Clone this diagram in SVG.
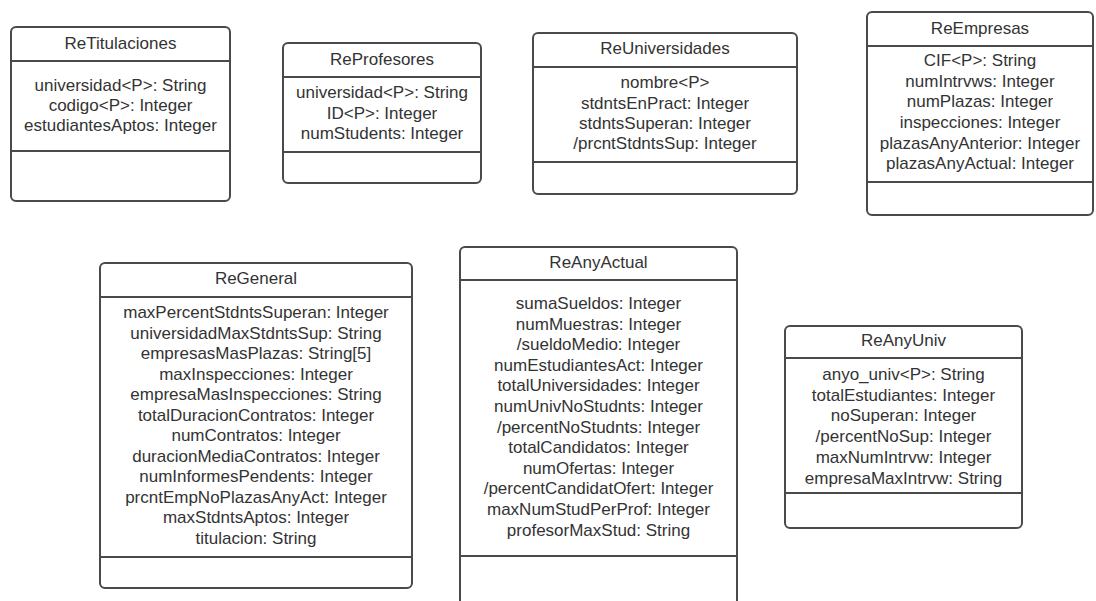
<svg xmlns="http://www.w3.org/2000/svg" width="1096" height="601" viewBox="0 0 1096 601">
<style>
.box{fill:#fff;stroke:#4a4a4a;stroke-width:2}
.ln{stroke:#4a4a4a;stroke-width:2}
text{font-family:"Liberation Sans",Arial,sans-serif;font-size:17px;fill:#333;text-anchor:middle}
</style>
<rect width="1096" height="601" fill="#fff"/>
<g id="connectors"></g>
<g id="ReTitulaciones">
<rect class="box" x="11" y="27" width="219" height="174" rx="5"/>
<line class="ln" x1="11" y1="61" x2="230" y2="61"/>
<line class="ln" x1="11" y1="151" x2="230" y2="151"/>
<text x="120.5" y="49">ReTitulaciones</text>
<text x="120.5" y="91">universidad&lt;P&gt;: String</text>
<text x="120.5" y="111">codigo&lt;P&gt;: Integer</text>
<text x="120.5" y="131">estudiantesAptos: Integer</text>
</g>
<g id="ReProfesores">
<rect class="box" x="283" y="43" width="198" height="140" rx="5"/>
<line class="ln" x1="283" y1="77" x2="481" y2="77"/>
<line class="ln" x1="283" y1="152" x2="481" y2="152"/>
<text x="382" y="65">ReProfesores</text>
<text x="382" y="98">universidad&lt;P&gt;: String</text>
<text x="382" y="119">ID&lt;P&gt;: Integer</text>
<text x="382" y="139">numStudents: Integer</text>
</g>
<g id="ReUniversidades">
<rect class="box" x="533" y="33" width="264" height="161" rx="5"/>
<line class="ln" x1="533" y1="67" x2="797" y2="67"/>
<line class="ln" x1="533" y1="162" x2="797" y2="162"/>
<text x="665" y="54">ReUniversidades</text>
<text x="665" y="88">nombre&lt;P&gt;</text>
<text x="665" y="109">stdntsEnPract: Integer</text>
<text x="665" y="129">stdntsSuperan: Integer</text>
<text x="665" y="149">/prcntStdntsSup: Integer</text>
</g>
<g id="ReEmpresas">
<rect class="box" x="867" y="12" width="226" height="203" rx="5"/>
<line class="ln" x1="867" y1="46" x2="1093" y2="46"/>
<line class="ln" x1="867" y1="182" x2="1093" y2="182"/>
<text x="980" y="34">ReEmpresas</text>
<text x="980" y="66">CIF&lt;P&gt;: String</text>
<text x="980" y="87">numIntrvws: Integer</text>
<text x="980" y="107">numPlazas: Integer</text>
<text x="980" y="128">inspecciones: Integer</text>
<text x="980" y="149">plazasAnyAnterior: Integer</text>
<text x="980" y="169">plazasAnyActual: Integer</text>
</g>
<g id="ReGeneral">
<rect class="box" x="100" y="263" width="312" height="325" rx="5"/>
<line class="ln" x1="100" y1="297" x2="412" y2="297"/>
<line class="ln" x1="100" y1="557" x2="412" y2="557"/>
<text x="256" y="284">ReGeneral</text>
<text x="256" y="318">maxPercentStdntsSuperan: Integer</text>
<text x="256" y="339">universidadMaxStdntsSup: String</text>
<text x="256" y="359">empresasMasPlazas: String[5]</text>
<text x="256" y="380">maxInspecciones: Integer</text>
<text x="256" y="400">empresaMasInspecciones: String</text>
<text x="256" y="421">totalDuracionContratos: Integer</text>
<text x="256" y="441">numContratos: Integer</text>
<text x="256" y="462">duracionMediaContratos: Integer</text>
<text x="256" y="482">numInformesPendents: Integer</text>
<text x="256" y="503">prcntEmpNoPlazasAnyAct: Integer</text>
<text x="256" y="523">maxStdntsAptos: Integer</text>
<text x="256" y="544">titulacion: String</text>
</g>
<g id="ReAnyActual">
<rect class="box" x="460" y="247" width="277" height="370" rx="5"/>
<line class="ln" x1="460" y1="280" x2="737" y2="280"/>
<line class="ln" x1="460" y1="556" x2="737" y2="556"/>
<text x="598.5" y="268">ReAnyActual</text>
<text x="598.5" y="309">sumaSueldos: Integer</text>
<text x="598.5" y="330">numMuestras: Integer</text>
<text x="598.5" y="350">/sueldoMedio: Integer</text>
<text x="598.5" y="371">numEstudiantesAct: Integer</text>
<text x="598.5" y="391">totalUniversidades: Integer</text>
<text x="598.5" y="412">numUnivNoStudnts: Integer</text>
<text x="598.5" y="433">/percentNoStudnts: Integer</text>
<text x="598.5" y="453">totalCandidatos: Integer</text>
<text x="598.5" y="474">numOfertas: Integer</text>
<text x="598.5" y="494">/percentCandidatOfert: Integer</text>
<text x="598.5" y="515">maxNumStudPerProf: Integer</text>
<text x="598.5" y="536">profesorMaxStud: String</text>
</g>
<g id="ReAnyUniv">
<rect class="box" x="785" y="326" width="237" height="202" rx="5"/>
<line class="ln" x1="785" y1="358" x2="1022" y2="358"/>
<line class="ln" x1="785" y1="493" x2="1022" y2="493"/>
<text x="903.5" y="346">ReAnyUniv</text>
<text x="903.5" y="380">anyo_univ&lt;P&gt;: String</text>
<text x="903.5" y="401">totalEstudiantes: Integer</text>
<text x="903.5" y="421">noSuperan: Integer</text>
<text x="903.5" y="442">/percentNoSup: Integer</text>
<text x="903.5" y="463">maxNumIntrvw: Integer</text>
<text x="903.5" y="484">empresaMaxIntrvw: String</text>
</g>
</svg>
